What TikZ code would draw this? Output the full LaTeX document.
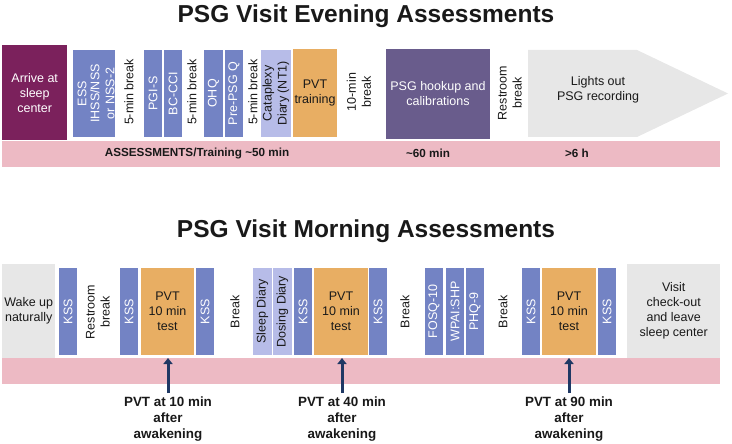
\documentclass[tikz,border=0pt]{standalone}
\usepackage{fontspec}
\setmainfont{Liberation Sans}
\usetikzlibrary{arrows.meta}
\definecolor{arrivec}{RGB}{123,33,92}
\definecolor{bluec}{RGB}{115,131,196}
\definecolor{lavc}{RGB}{183,188,232}
\definecolor{orangec}{RGB}{232,174,99}
\definecolor{psgc}{RGB}{105,92,140}
\definecolor{greyc}{RGB}{231,231,231}
\definecolor{pinkc}{RGB}{237,186,196}
\definecolor{navyc}{RGB}{31,56,100}
\definecolor{txtc}{RGB}{25,25,25}
\tikzset{
  lbl/.style={font=\fontsize{12.5}{15}\selectfont, align=center, inner sep=0pt},
  vtxt/.style={lbl, rotate=90, text=txtc},
  vbox/.style={lbl, rotate=90, fill=bluec, text=white, minimum height=18pt},
  vlav/.style={lbl, rotate=90, fill=lavc, text=txtc, minimum height=19pt},
  pvtbox/.style={lbl, fill=orangec, text=txtc},
  greybox/.style={lbl, fill=greyc, text=txtc},
  barc/.style={fill=pinkc, inner sep=0pt},
  barlbl/.style={font=\fontsize{11.7}{14}\selectfont\bfseries, text=txtc},
  ttl/.style={font=\fontsize{24.5}{28}\selectfont\bfseries, text=txtc},
  notelbl/.style={font=\fontsize{13.4}{16}\selectfont\bfseries, align=center, text=txtc, inner sep=0pt},
  uparrow/.style={draw=navyc, line width=3pt, -{Triangle[length=6pt,width=9pt]}},
}
\begin{document}
\begin{tikzpicture}[x=1pt,y=-1pt]
\useasboundingbox (0,0) rectangle (732,444);
% ---------- Evening ----------
\node[ttl] (t1) at (366,16) {PSG Visit Evening Assessments};
\node[barc, minimum width=718pt, minimum height=26pt, anchor=north west] (bar1) at (2,141) {};
\node[lbl, fill=arrivec, text=white, minimum width=65pt, minimum height=95pt, anchor=north west] (arrive) at (2,45) {Arrive at\\sleep\\center};
\node[vbox, minimum width=87pt] (ess) at (82,93.5) {ESS};
\node[vbox, minimum width=87pt, minimum height=19pt] (ihss) at (102.5,93.5) {IHSS/NSS\\or NSS-2};
\node[vtxt] (b1) at (129,92) {5-min break};
\node[vbox, minimum width=87pt] (pgi) at (153,93.5) {PGI-S};
\node[vbox, minimum width=87pt] (bcc) at (173,93.5) {BC-CCI};
\node[vtxt] (b2) at (192,92) {5-min break};
\node[vbox, minimum width=87pt, minimum height=19pt] (ohq) at (213.5,93.5) {OHQ};
\node[vbox, minimum width=87pt] (pre) at (234,93.5) {Pre-PSG Q};
\node[vtxt] (b3) at (253,92) {5-min break};
\node[vlav, minimum width=87pt, minimum height=30pt] (cat) at (276,93.5) {Cataplexy\\Diary (NT1)};
\node[pvtbox, minimum width=44pt, minimum height=88pt] (pvtt) at (315,93) {PVT\\training};
\node[vtxt] (b4) at (359,92) {10-min\\break};
\node[lbl, fill=psgc, text=white, minimum width=104pt, minimum height=90pt] (psg) at (438,94) {PSG hookup and\\calibrations};
\node[vtxt] (b5) at (510,93) {Restroom\\break};
\fill[greyc] (528,50) -- (637,50) -- (728,93.5) -- (637,137) -- (528,137) -- cycle;
\node[lbl, text=txtc] (lights) at (598,90) {Lights out\\PSG recording};
\node[barlbl] (bl1) at (197,153.5) {ASSESSMENTS/Training \textasciitilde 50 min};
\node[barlbl] (bl2) at (428,153.5) {\textasciitilde 60 min};
\node[barlbl] (bl3) at (577,153.5) {>6 h};
% ---------- Morning ----------
\node[ttl] (t2) at (366,231) {PSG Visit Morning Assessments};
\node[barc, minimum width=718pt, minimum height=26pt, anchor=north west] (bar2) at (2,358) {};
\node[greybox, minimum width=53pt, minimum height=94pt, anchor=north west] (wake) at (2,264) {Wake up\\naturally};
\node[vbox, minimum width=87pt] (k1) at (68,311.5) {KSS};
\node[vtxt] (r1) at (98,312) {Restroom\\break};
\node[vbox, minimum width=87pt] (k2) at (129,311.5) {KSS};
\node[pvtbox, minimum width=53pt, minimum height=87pt] (p1) at (167.5,311.5) {PVT\\10 min\\test};
\node[vbox, minimum width=87pt] (k3) at (205,311.5) {KSS};
\node[vtxt] (br1) at (235,312) {Break};
\node[vlav, minimum width=87pt] (sd) at (262.5,311.5) {Sleep Diary};
\node[vlav, minimum width=87pt] (dd) at (282.5,311.5) {Dosing Diary};
\node[vbox, minimum width=87pt] (k4) at (303,311.5) {KSS};
\node[pvtbox, minimum width=54pt, minimum height=87pt] (p2) at (341,311.5) {PVT\\10 min\\test};
\node[vbox, minimum width=87pt] (k5) at (378,311.5) {KSS};
\node[vtxt] (br2) at (405,312) {Break};
\node[vbox, minimum width=87pt] (fosq) at (434,311.5) {FOSQ-10};
\node[vbox, minimum width=87pt] (wpai) at (455,311.5) {WPAI:SHP};
\node[vbox, minimum width=87pt] (phq) at (475,311.5) {PHQ-9};
\node[vtxt] (br3) at (503,312) {Break};
\node[vbox, minimum width=87pt] (k6) at (531,311.5) {KSS};
\node[pvtbox, minimum width=54pt, minimum height=87pt] (p3) at (569,311.5) {PVT\\10 min\\test};
\node[vbox, minimum width=87pt] (k7) at (607,311.5) {KSS};
\node[greybox, minimum width=93pt, minimum height=94pt, anchor=north west] (visit) at (627,264) {Visit\\check-out\\and leave\\sleep center};
% notes and arrows
\node[notelbl, anchor=north] (n1) at (168,397) {PVT at 10 min\\after\\awakening};
\node[notelbl, anchor=north] (n2) at (342,397) {PVT at 40 min\\after\\awakening};
\node[notelbl, anchor=north] (n3) at (569,397) {PVT at 90 min\\after\\awakening};
\draw[uparrow] (n1.north) ++(0,-4) -- (n1.north |- bar2.north);
\draw[uparrow] (n2.north) ++(0,-4) -- (n2.north |- bar2.north);
\draw[uparrow] (n3.north) ++(0,-4) -- (n3.north |- bar2.north);
\end{tikzpicture}
\end{document}
